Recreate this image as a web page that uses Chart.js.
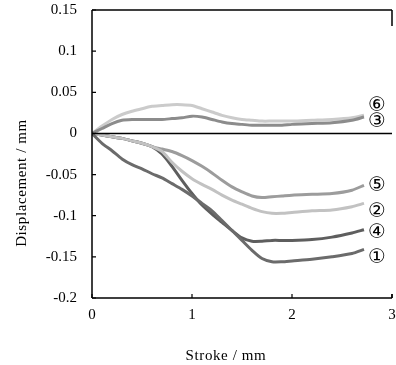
<!DOCTYPE html>
<html>
<head>
<meta charset="utf-8">
<script src="https://cdn.jsdelivr.net/npm/chart.js@4"></script>
<style>
  html, body { margin: 0; padding: 0; background: #fff; }
  #chart { display: block; }
</style>
</head>
<body>
<canvas id="chart" width="396" height="365"></canvas>
<script>
// stroke positions (mm)
const stroke = [0, 0.1, 0.2, 0.3, 0.4, 0.5, 0.6, 0.7, 0.8, 0.9, 1.0, 1.1, 1.2, 1.3, 1.4, 1.5, 1.6, 1.7, 1.8, 1.9, 2.0, 2.2, 2.4, 2.6, 2.72];

// displacement (mm) per specimen
const s1 = [0, -0.012, -0.021, -0.031, -0.038, -0.043, -0.049, -0.054, -0.061, -0.068, -0.076, -0.085, -0.094, -0.106, -0.118, -0.130, -0.142, -0.152, -0.156, -0.156, -0.155, -0.153, -0.150, -0.146, -0.141];
const s2 = [0, -0.002, -0.004, -0.006, -0.009, -0.012, -0.016, -0.022, -0.035, -0.046, -0.055, -0.062, -0.068, -0.075, -0.081, -0.086, -0.091, -0.095, -0.097, -0.097, -0.096, -0.094, -0.093, -0.089, -0.085];
const s3 = [0, 0.006, 0.012, 0.016, 0.017, 0.017, 0.017, 0.017, 0.018, 0.019, 0.021, 0.020, 0.017, 0.014, 0.012, 0.011, 0.010, 0.010, 0.010, 0.010, 0.011, 0.012, 0.013, 0.016, 0.020];
const s4 = [0, -0.002, -0.004, -0.006, -0.009, -0.012, -0.016, -0.025, -0.040, -0.057, -0.073, -0.087, -0.098, -0.108, -0.118, -0.127, -0.131, -0.131, -0.130, -0.130, -0.130, -0.129, -0.126, -0.121, -0.117];
const s5 = [0, -0.002, -0.004, -0.006, -0.009, -0.012, -0.016, -0.019, -0.022, -0.027, -0.033, -0.040, -0.048, -0.057, -0.065, -0.071, -0.076, -0.078, -0.077, -0.076, -0.075, -0.074, -0.073, -0.069, -0.063];
const s6 = [0, 0.009, 0.017, 0.023, 0.027, 0.030, 0.033, 0.034, 0.035, 0.035, 0.034, 0.030, 0.026, 0.022, 0.019, 0.017, 0.016, 0.015, 0.015, 0.015, 0.015, 0.016, 0.017, 0.019, 0.022];

const seriesNames = ["①", "②", "③", "④", "⑤", "⑥"];
const seriesValues = [s1, s2, s3, s4, s5, s6];
const seriesColors = ["#6b6b6b", "#c2c2c2", "#8c8c8c", "#5e5e5e", "#9c9c9c", "#cbcbcb"];
// pixel nudges so the circled labels don't collide
const labelNudge = [8, 8, 5, 3, 1, -10];

const xTicks = [0, 1, 2, 3];
const yTicks = [0.15, 0.1, 0.05, 0, -0.05, -0.1, -0.15, -0.2];

const serif = "'Liberation Serif', 'Times New Roman', serif";

const datasets = seriesValues.map((vals, i) => ({
  label: seriesNames[i],
  data: vals.map((v, j) => ({ x: stroke[j], y: v })),
  borderColor: seriesColors[i],
  borderWidth: 3,
  pointRadius: 0,
  tension: 0.25,
  fill: false,
}));

// keep the plot box fixed, don't let tick labels push it around
function noPad(s) {
  s.paddingLeft = 0; s.paddingRight = 0; s.paddingTop = 0; s.paddingBottom = 0;
}

const framePlugin = {
  id: "frame",
  afterDraw(chart) {
    const ctx = chart.ctx;
    const xs = chart.scales.x, ys = chart.scales.y;
    const a = chart.chartArea;
    ctx.save();
    ctx.strokeStyle = "#000";
    ctx.lineWidth = 1.5;

    // frame: top, left, bottom, and short right stubs
    ctx.beginPath();
    ctx.moveTo(a.left, a.top); ctx.lineTo(a.right, a.top);
    ctx.moveTo(a.left, a.top); ctx.lineTo(a.left, a.bottom);
    ctx.moveTo(a.left, a.bottom); ctx.lineTo(a.right, a.bottom);
    ctx.moveTo(a.right, a.top); ctx.lineTo(a.right, a.top + 16);
    ctx.moveTo(a.right, a.bottom); ctx.lineTo(a.right, a.bottom - 4);
    ctx.stroke();

    // zero line
    const y0 = ys.getPixelForValue(0);
    ctx.beginPath();
    ctx.moveTo(a.left, y0); ctx.lineTo(a.right, y0);
    ctx.stroke();

    // inward ticks
    ctx.lineWidth = 1.2;
    ctx.beginPath();
    yTicks.forEach(v => {
      const py = ys.getPixelForValue(v);
      ctx.moveTo(a.left, py); ctx.lineTo(a.left + 4, py);
    });
    xTicks.forEach(v => {
      const px = xs.getPixelForValue(v);
      ctx.moveTo(px, a.bottom); ctx.lineTo(px, a.bottom - 4);
    });
    ctx.stroke();

    // axis titles
    ctx.fillStyle = "#000";
    ctx.font = "15px " + serif;
    ctx.letterSpacing = "0.6px";
    ctx.textAlign = "center";
    ctx.textBaseline = "middle";
    ctx.fillText("Stroke / mm", 226, 356);
    ctx.translate(22, 183);
    ctx.rotate(-Math.PI / 2);
    ctx.fillText("Displacement / mm", 0, 0);
    ctx.restore();

    // circled series labels at line ends
    ctx.save();
    ctx.fillStyle = "#000";
    ctx.font = "20px 'DejaVu Sans', 'Noto Sans CJK JP', sans-serif";
    ctx.textAlign = "center";
    ctx.textBaseline = "middle";
    seriesValues.forEach((vals, i) => {
      const last = vals[vals.length - 1];
      const px = xs.getPixelForValue(2.85);
      const py = ys.getPixelForValue(last) + labelNudge[i];
      ctx.fillText(seriesNames[i], px, py);
    });
    ctx.restore();
  }
};

new Chart(document.getElementById("chart"), {
  type: "line",
  data: { datasets },
  options: {
    responsive: false,
    animation: false,
    layout: { padding: { top: 10, right: 4, left: 0, bottom: 0 } },
    plugins: { legend: { display: false }, tooltip: { enabled: false } },
    scales: {
      x: {
        type: "linear",
        min: 0, max: 3,
        afterFit: s => { s.height = 67; noPad(s); },
        afterBuildTicks: s => { s.ticks = xTicks.map(v => ({ value: v })); },
        grid: { display: false, drawTicks: false },
        border: { display: false },
        ticks: { color: "#000", font: { family: serif, size: 15 }, padding: 8, maxRotation: 0 },
      },
      y: {
        type: "linear",
        min: -0.2, max: 0.15,
        afterFit: s => { s.width = 92; noPad(s); },
        afterBuildTicks: s => { s.ticks = yTicks.map(v => ({ value: v })); },
        grid: { display: false, drawTicks: false },
        border: { display: false },
        ticks: {
          color: "#000", font: { family: serif, size: 15 }, padding: 15,
          callback: v => String(Number(v.toFixed(2))),
        },
      },
    },
  },
  plugins: [framePlugin],
});
</script>
</body>
</html>
